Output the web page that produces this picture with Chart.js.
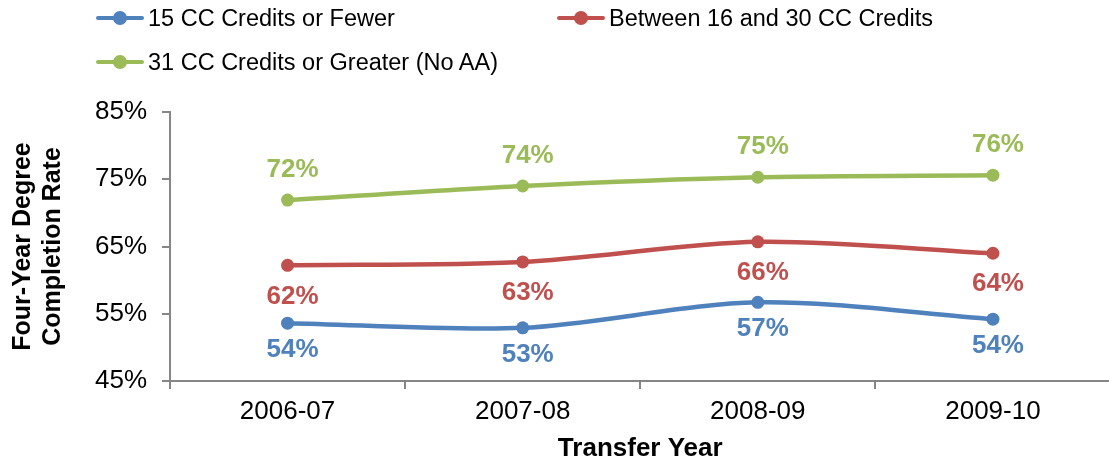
<!DOCTYPE html>
<html>
<head>
<meta charset="utf-8">
<script src="https://cdn.jsdelivr.net/npm/chart.js@4.4.0/dist/chart.umd.min.js"></script>
<style>
  html, body { margin: 0; padding: 0; background: #fff; overflow: hidden; }
  #wrap { position: relative; width: 1109px; height: 464px; overflow: hidden; }
  #legend {
    position: absolute; left: 96px; top: -4px;
    display: grid; grid-template-columns: 461px 461px; grid-auto-rows: 44px;
    font: 23.5px "Liberation Sans", Arial, sans-serif; color: #000;
  }
  .item { display: flex; align-items: center; }
  .mark { position: relative; width: 48px; height: 14px; margin-right: 4px; }
  .mark .ln { position: absolute; left: 0; right: 0; top: 5px; height: 4px; border-radius: 2px; }
  .mark .dot { position: absolute; left: 17px; top: 0; width: 14px; height: 14px; border-radius: 50%; }
</style>
</head>
<body>
<div id="wrap">
  <canvas id="chart" width="1117" height="464"></canvas>
  <div id="legend"></div>
</div>
<script>
// data
const years = ['2006-07', '2007-08', '2008-09', '2009-10'];
const seriesNames = ['15 CC Credits or Fewer', 'Between 16 and 30 CC Credits', '31 CC Credits or Greater (No AA)'];
const fewer15 = [53.6, 52.9, 56.7, 54.2];
const between16to30 = [62.2, 62.7, 65.7, 64.0];
const over31 = [71.9, 74.0, 75.3, 75.6];
const yTicks = [45, 55, 65, 75, 85];

const colors = ['#4F81BD', '#C0504D', '#9BBB59'];
const labelOffsets = [27, 31, -30];
const font = '"Liberation Sans", Arial, sans-serif';

// draws the value labels next to each point
const pointLabels = {
  id: 'pointLabels',
  afterDatasetsDraw(chart) {
    const ctx = chart.ctx;
    chart.data.datasets.forEach((ds, i) => {
      const meta = chart.getDatasetMeta(i);
      ctx.save();
      ctx.font = 'bold 26px ' + font;
      ctx.fillStyle = ds.borderColor;
      ctx.textAlign = 'center';
      ctx.textBaseline = 'middle';
      meta.data.forEach((pt, j) => {
        ctx.fillText(Math.round(ds.data[j]) + '%', pt.x + 5, pt.y + labelOffsets[i]);
      });
      ctx.restore();
    });
  }
};

const makeSet = (label, data, color) => ({
  label: label,
  data: data,
  borderColor: color,
  backgroundColor: color,
  borderWidth: 4.5,
  pointRadius: 6.5,
  pointBorderWidth: 0,
  pointBackgroundColor: color,
  tension: 0.3,
  fill: false
});

new Chart(document.getElementById('chart'), {
  type: 'line',
  data: {
    labels: years,
    datasets: [
      makeSet(seriesNames[0], fewer15, colors[0]),
      makeSet(seriesNames[1], between16to30, colors[1]),
      makeSet(seriesNames[2], over31, colors[2])
    ]
  },
  options: {
    responsive: false,
    animation: false,
    layout: { padding: { top: 112, left: 0, right: 0, bottom: 0 } },
    plugins: { legend: { display: false }, tooltip: { enabled: false } },
    scales: {
      x: {
        offset: true,
        grid: { display: true, offset: true, drawOnChartArea: false, drawTicks: true, tickLength: 8, color: '#868686', lineWidth: 2 },
        border: { display: true, color: '#868686', width: 2 },
        ticks: { color: '#000', padding: 7, font: { family: font, size: 26 } },
        title: { display: true, text: 'Transfer Year', color: '#000', padding: { top: 0, bottom: 1 }, font: { family: font, size: 26, weight: 'bold', lineHeight: 1.1 } },
        afterFit: (scale) => { scale.height = 83; }
      },
      y: {
        min: yTicks[0],
        max: yTicks[yTicks.length - 1],
        afterBuildTicks: (scale) => { scale.ticks = yTicks.map(v => ({ value: v })); },
        grid: { display: true, drawOnChartArea: false, drawTicks: true, tickLength: 8, color: '#868686', lineWidth: 2 },
        border: { display: true, color: '#868686', width: 2 },
        ticks: { color: '#000', padding: 15, font: { family: font, size: 26 }, callback: (v) => v + '%' },
        title: { display: true, text: ['Four-Year Degree', 'Completion Rate'], color: '#000', padding: { top: 8, bottom: 0 }, font: { family: font, size: 25, weight: 'bold', lineHeight: 1.2 } },
        afterFit: (scale) => { scale.width = 170; }
      }
    }
  },
  plugins: [pointLabels]
});

// legend
const legend = document.getElementById('legend');
seriesNames.forEach((name, i) => {
  const item = document.createElement('div');
  item.className = 'item';
  item.innerHTML = '<span class="mark"><span class="ln" style="background:' + colors[i] + '"></span>' +
    '<span class="dot" style="background:' + colors[i] + '"></span></span><span>' + name + '</span>';
  legend.appendChild(item);
});
</script>
</body>
</html>
